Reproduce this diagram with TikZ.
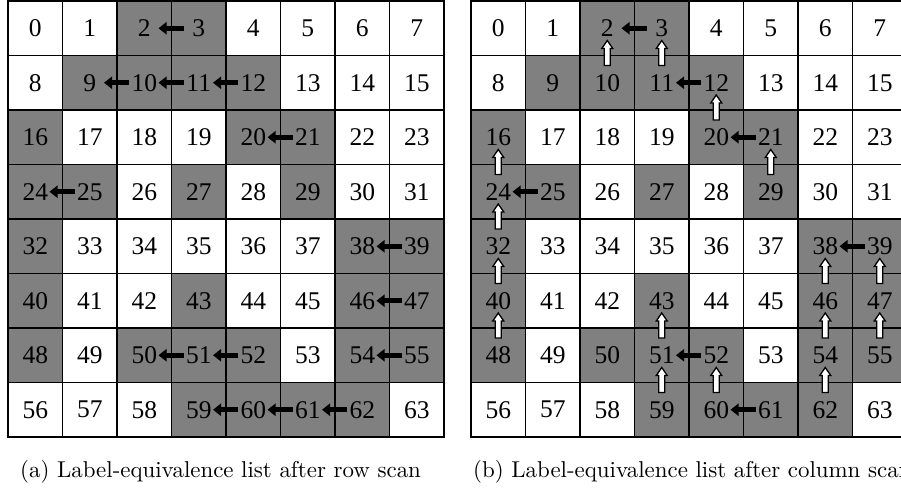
\documentclass[tikz,border=0pt]{standalone}
\usepackage{fontspec}
\newfontfamily\numfont{Liberation Serif}
\newfontfamily\capfont{lmroman10-regular.otf}
\usetikzlibrary{arrows.meta}
\definecolor{cellgray}{HTML}{808080}
\def\graymap{{0,0,1,1,0,0,0,0, 0,1,1,1,1,0,0,0, 1,0,0,0,1,1,0,0, 1,1,0,1,0,1,0,0, 1,0,0,0,0,0,1,1, 1,0,0,1,0,0,1,1, 1,0,1,1,1,0,1,1, 0,0,0,1,1,1,1,0}}
\begin{document}
\begin{tikzpicture}[x=1pt,y=-1pt,
  cell/.style={draw=black, line width=1.3pt, minimum width=54.5pt, minimum height=54.5pt,
    inner sep=0pt, outer sep=0pt, font=\numfont\fontsize{25.5}{26}\selectfont, anchor=center},
  solidarr/.style={line width=5pt, -{Triangle[length=8pt,width=12pt]}},
  hollowarr/.style={draw=black, fill=white, line width=1.3pt, line join=miter},
  captext/.style={anchor=base west, inner sep=0pt, font=\capfont\fontsize{22.9}{26}\selectfont}]
\useasboundingbox (0,0) rectangle (901,487);
\clip (0,0) rectangle (901,487);
\foreach \n in {0,...,63} {
  \pgfmathtruncatemacro\c{mod(\n,8)}
  \pgfmathtruncatemacro\r{div(\n,8)}
  \pgfmathtruncatemacro\g{\graymap[\n]}
  \ifnum\g=1 \def\fc{cellgray}\else\def\fc{white}\fi
  \node[cell, fill=\fc] (a\n) at ({8+(\c+0.5)*54.5},{1+(\r+0.5)*54.5}) {\n};
  \node[cell, fill=\fc] (b\n) at ({471+(\c+0.5)*54.5},{1+(\r+0.5)*54.5}) {\n};
}
% row-scan arrows (left grid)
\foreach \s/\t in {3/2,10/9,11/10,12/11,21/20,25/24,39/38,47/46,51/50,52/51,55/54,60/59,61/60,62/61}
  \draw[solidarr] ([xshift=12pt]a\s.west) -- ([xshift=-13pt]a\t.east);
% right grid horizontal arrows
\foreach \s/\t in {3/2,12/11,21/20,25/24,39/38,52/51,61/60}
  \draw[solidarr] ([xshift=12pt]b\s.west) -- ([xshift=-13pt]b\t.east);
% right grid up arrows (hollow)
\foreach \s/\t in {10/2,11/3,20/12,29/21,24/16,32/24,40/32,48/40,46/38,47/39,54/46,55/47,51/43,59/51,60/52,62/54}
  \draw[hollowarr] (b\s.north) ++(-3,10) -- ++(0,-17) -- ++(-2.5,0) -- ++(5.5,-8) -- ++(5.5,8) -- ++(-2.5,0) -- ++(0,17) -- cycle;
\node[captext] (capa) at (20,477) {(a) Label-equivalence list after row scan};
\node[captext] (capb) at (473,477) {(b) Label-equivalence list after column scan};
\end{tikzpicture}
\end{document}
